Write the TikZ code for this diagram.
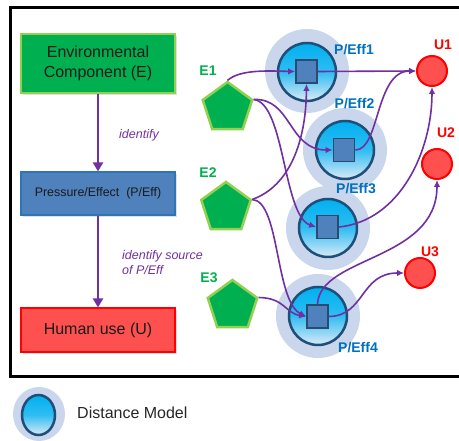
\documentclass[tikz,border=0pt]{standalone}
\usepackage{fontspec}
\setmainfont{Liberation Sans}
\usetikzlibrary{shapes.geometric,arrows.meta,shadows}
\definecolor{egreen}{HTML}{00B050}
\definecolor{lgreen}{HTML}{92D050}
\definecolor{pur}{HTML}{7030A0}
\definecolor{pblue}{HTML}{4F81BD}
\definecolor{bbord}{HTML}{2E75B6}
\definecolor{sqborder}{HTML}{2B4A72}
\definecolor{halocol}{HTML}{C9D6EC}
\definecolor{dmborder}{HTML}{1F4E79}
\definecolor{dmtop}{HTML}{00B0F0}
\definecolor{dmmid}{HTML}{2FBDF2}
\definecolor{dmbot}{HTML}{DCEAF7}
\definecolor{ured}{HTML}{FF5050}
\definecolor{ptxt}{HTML}{0070C0}
\definecolor{dtext}{HTML}{1A1A1A}
\begin{document}
\begin{tikzpicture}[x=1pt,y=1pt,
  box/.style={draw, line width=1.2pt, minimum width=154pt, inner sep=0pt, align=center, text=dtext,
    drop shadow={opacity=0.25,shadow xshift=2pt,shadow yshift=-2pt}},
  pent/.style={regular polygon, regular polygon sides=5, minimum size=52pt, inner sep=0pt,
    fill=egreen, draw=lgreen, line width=2.5pt},
  halo/.style={circle, minimum size=84pt, inner sep=0pt, fill=halocol},
  dm/.style={circle, minimum size=58pt, inner sep=0pt, draw=dmborder, line width=2.5pt,
    top color=dmtop, bottom color=dmbot, middle color=dmmid},
  sq/.style={rectangle, minimum width=21pt, minimum height=23pt, inner sep=0pt,
    fill=pblue, draw=sqborder, line width=1.8pt},
  unode/.style={circle, minimum size=30pt, inner sep=0pt, fill=ured, draw=red, line width=2pt},
  elab/.style={font=\fontsize{14}{16}\selectfont\bfseries, text=egreen, inner sep=0pt},
  plab/.style={font=\fontsize{14}{16}\selectfont\bfseries, text=ptxt, inner sep=0pt},
  ulab/.style={font=\fontsize{14}{16}\selectfont\bfseries, text=red, inner sep=0pt},
  link/.style={draw=pur, line width=1.6pt, -{Latex[length=7pt,width=6.5pt]}},
  flow/.style={draw=pur, line width=2.6pt, -{Triangle[length=9pt,width=10pt]}},
  note/.style={font=\fontsize{12.5}{15}\selectfont\itshape, text=pur, inner sep=0pt},
]
\useasboundingbox (0,0) rectangle (459,441);

% frame
\draw[line width=3pt] (459,433.5) -- (10.5,433.5) -- (10.5,64) -- (459,64);

% left boxes
\node[box, fill=egreen, draw=lgreen, minimum height=59pt,
  font=\fontsize{16}{20}\selectfont] (envbox) at (98,377.5) {Environmental\\Component (E)};
\node[box, fill=pblue, draw=bbord, minimum height=43pt,
  font=\fontsize{12.4}{15}\selectfont] (pebox) at (98,247.5) {Pressure/Effect~~(P/Eff)};
\node[box, fill=ured, draw=red, minimum height=44pt,
  font=\fontsize{16}{20}\selectfont] (hubox) at (98,111) {Human use (U)};

\draw[flow] (envbox.south) -- (pebox.north);
\draw[flow] (pebox.south) -- (hubox.north);
\node[note] (idlab) at (139,306) {identify};
\node[note, anchor=west, align=left] (srclab) at (122,178.5) {identify source\\of P/Eff};

% halos
\node[halo] (h1) at (307,370) {};
\node[halo] (h2) at (345,291) {};
\node[halo] (h3) at (328,213) {};
\node[halo] (h4) at (318,125) {};

% distance model circles
\node[dm] (c1) at (307,369) {};
\node[dm] (c2) at (345,291) {};
\node[dm] (c3) at (328,213) {};
\node[dm] (c4) at (318,125) {};

\node[sq] (s1) at (306.5,369.5) {};
\node[sq] (s2) at (344,291) {};
\node[sq] (s3) at (327.5,214) {};
\node[sq] (s4) at (317.5,124.5) {};

\node[plab] (l1) at (354,391) {P/Eff1};
\node[plab] (l2) at (354.5,337) {P/Eff2};
\node[plab] (l3) at (356,252) {P/Eff3};
\node[plab] (l4) at (358,93) {P/Eff4};

% pentagons
\node[pent] (E1) at (227.5,333) {};
\node[pent] (E2) at (226,233) {};
\node[pent] (E3) at (232.5,135) {};
\node[elab] (e1l) at (208,370) {E1};
\node[elab] (e2l) at (208,268) {E2};
\node[elab] (e3l) at (209,163) {E3};

% human use circles
\node[unode] (U1) at (432,370) {};
\node[unode] (U2) at (437,277) {};
\node[unode] (U3) at (420,168) {};
\node[ulab] (u1l) at (443,396) {U1};
\node[ulab] (u2l) at (446,308) {U2};
\node[ulab] (u3l) at (430,189) {U3};

% links
\draw[link] (E1.90) .. controls (240,372) and (270,370) .. (s1.west);
\draw[link] (s1.east) -- (U1.west);
\draw[link] (E1.18) .. controls (292,343) and (288,291) .. (s2.west);
\draw[link] (E1.18) .. controls (285,338) and (283,225) .. (s3.west);
\draw[link] (E2.18) .. controls (290,255) and (306,300) .. (s1.south);
\draw[link] (E2.18) .. controls (280,240) and (275,140) .. (s4.west);
\draw[link] (E3.18) .. controls (285,143) and (285,128) .. (s4.west);
\draw[link] (s2.east) .. controls (380,291) and (375,370) .. (U1.west);
\draw[link] (s3.east) .. controls (400,220) and (432,290) .. (U1.south);
\draw[link] (s4.north) .. controls (320,185) and (437,180) .. (U2.south);
\draw[link] (s4.east) .. controls (365,125) and (360,168) .. (U3.west);

% legend
\node[ellipse, minimum width=52pt, minimum height=54pt, inner sep=0pt, fill=halocol] (lh) at (39,27) {};
\node[ellipse, minimum width=33pt, minimum height=40pt, inner sep=0pt, draw=dmborder, line width=2.5pt,
  top color=dmtop, bottom color=dmbot, middle color=dmmid] (lc) at (38.5,26) {};
\node[anchor=west, inner sep=0pt, text={rgb,255:red,38;green,38;blue,38},
  font=\fontsize{16}{19}\selectfont] (legtext) at (77,28) {Distance Model};
\end{tikzpicture}
\end{document}
